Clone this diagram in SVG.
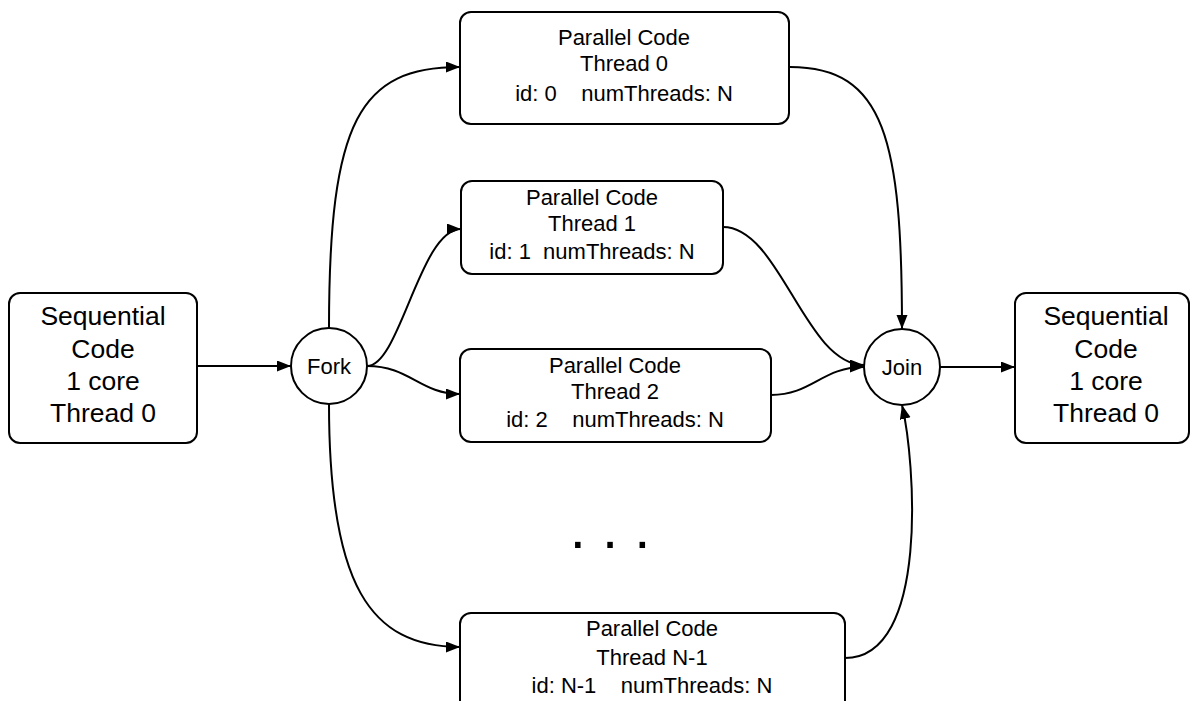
<svg xmlns="http://www.w3.org/2000/svg" width="1191" height="701" viewBox="0 0 1191 701">
  <style>
    .box { fill: #ffffff; stroke: #000000; stroke-width: 2; }
    .txt { font-family: "Liberation Sans", Arial, sans-serif; fill: #000000; text-anchor: middle; }
    .big { font-size: 26.5px; }
    .mid { font-size: 22px; }
    .edge { fill: none; stroke: #000000; stroke-width: 2; marker-end: url(#arrow); }
  </style>
  <defs>
    <marker id="arrow" markerUnits="userSpaceOnUse" markerWidth="16" markerHeight="12" refX="14" refY="5.5" orient="auto">
      <path d="M0,0 L14,5.5 L0,11 z" fill="#000000"/>
    </marker>
  </defs>
  <rect width="1191" height="701" fill="#ffffff"/>

  <!-- connectors -->
  <g id="connectors">
    <path class="edge" d="M197,366 L291,366"/>
    <path class="edge" d="M329,328 C329,120 360,67 460,67"/>
    <path class="edge" d="M367,366 C400,366 420,229 461,229"/>
    <path class="edge" d="M367,366 C410,366 420,394 460,394"/>
    <path class="edge" d="M329,404 C329,585 370,647 460,647"/>
    <path class="edge" d="M790,67 C885,67 902,140 902,329"/>
    <path class="edge" d="M723,227 C780,227 805,365 864,365"/>
    <path class="edge" d="M771,395 C812,395 822,367 864,367"/>
    <path class="edge" d="M845,658 C930,658 915,460 902,405"/>
    <path class="edge" d="M940,367 L1015,367"/>
  </g>

  <!-- sequential code before the fork -->
  <g id="seq-start">
    <rect class="box" x="9" y="293" width="188" height="150" rx="11"/>
    <text class="txt big" x="103" y="325">Sequential</text>
    <text class="txt big" x="103" y="357.5">Code</text>
    <text class="txt big" x="103" y="390">1 core</text>
    <text class="txt big" x="103" y="422">Thread 0</text>
  </g>

  <g id="fork">
    <circle class="box" cx="329" cy="366" r="38"/>
    <text class="txt mid" x="329" y="374">Fork</text>
  </g>

  <g id="thread-0">
    <rect class="box" x="460" y="12" width="329" height="112" rx="11"/>
    <text class="txt mid" x="624" y="45">Parallel Code</text>
    <text class="txt mid" x="624" y="71">Thread 0</text>
    <text class="txt mid" x="624" y="101" xml:space="preserve">id: 0    numThreads: N</text>
  </g>

  <g id="thread-1">
    <rect class="box" x="461" y="181" width="262" height="93" rx="11"/>
    <text class="txt mid" x="592" y="204.5">Parallel Code</text>
    <text class="txt mid" x="592" y="231">Thread 1</text>
    <text class="txt mid" x="592" y="259" xml:space="preserve">id: 1  numThreads: N</text>
  </g>

  <g id="thread-2">
    <rect class="box" x="460" y="349" width="311" height="93" rx="11"/>
    <text class="txt mid" x="615" y="372.5">Parallel Code</text>
    <text class="txt mid" x="615" y="399">Thread 2</text>
    <text class="txt mid" x="615" y="427" xml:space="preserve">id: 2    numThreads: N</text>
  </g>

  <g id="ellipsis">
    <text class="txt" x="610" y="548" font-size="58" xml:space="preserve">. . .</text>
  </g>

  <g id="thread-n-1">
    <rect class="box" x="460" y="613" width="385" height="110" rx="11"/>
    <text class="txt mid" x="652" y="636">Parallel Code</text>
    <text class="txt mid" x="652" y="665">Thread N-1</text>
    <text class="txt mid" x="652" y="693" xml:space="preserve">id: N-1    numThreads: N</text>
  </g>

  <g id="join">
    <circle class="box" cx="902" cy="367" r="38"/>
    <text class="txt mid" x="902" y="375">Join</text>
  </g>

  <!-- sequential code after the join -->
  <g id="seq-end">
    <rect class="box" x="1015" y="293" width="174" height="150" rx="11"/>
    <text class="txt big" x="1106" y="325">Sequential</text>
    <text class="txt big" x="1106" y="357.5">Code</text>
    <text class="txt big" x="1106" y="390">1 core</text>
    <text class="txt big" x="1106" y="422">Thread 0</text>
  </g>
</svg>
